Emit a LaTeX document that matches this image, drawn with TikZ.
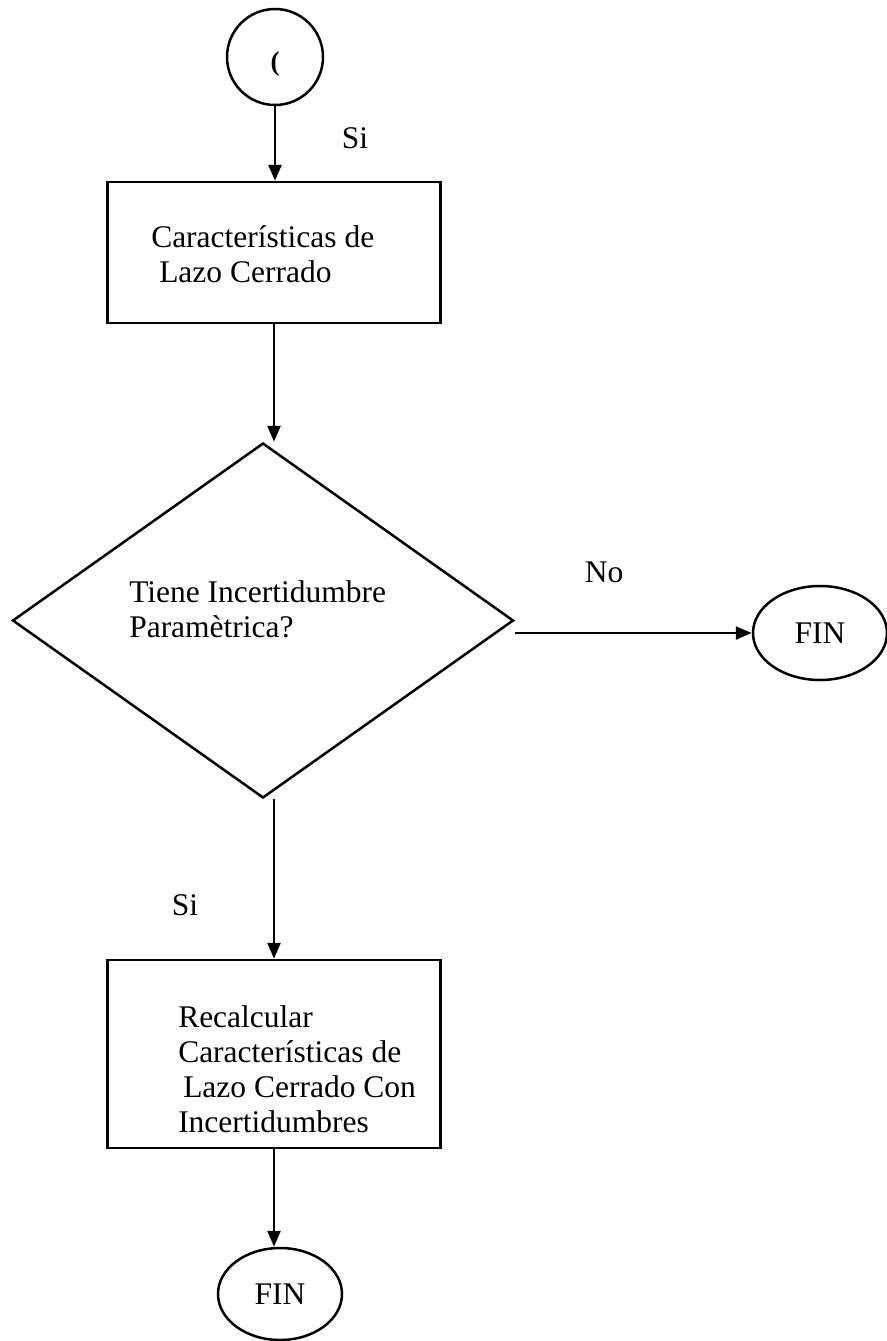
\documentclass[tikz,border=0pt]{standalone}
\usepackage{fontspec}
\setmainfont{Liberation Serif}
\usetikzlibrary{arrows.meta,positioning,shapes.geometric}

\begin{document}
\begin{tikzpicture}[
  x=1pt, y=-1pt,
  font=\fontsize{31.5}{35}\selectfont,
  line width=2.5pt,
  stepbox/.style={draw, rectangle, inner sep=0pt, minimum width=333pt},
  decision/.style={draw, diamond, inner sep=0pt, minimum width=501pt, minimum height=355pt},
  term/.style={draw, ellipse, inner sep=0pt},
  txt/.style={anchor=west, align=left, inner sep=0pt},
  arr/.style={-{Triangle[length=16pt,width=13pt]}},
]
\useasboundingbox (0,0) rectangle (886,1341);
\node[draw, circle, inner sep=0pt, minimum size=96pt, text height=32pt, text depth=5pt, font=\fontsize{27}{30}\selectfont\bfseries] (conn) at (275,57) {(};
\node[stepbox, minimum height=141pt] (chars) at (274,252.5) {};
\node[txt] (charstxt) at (150,254) {Características de\\\hspace*{8pt}Lazo Cerrado};
\node[decision] (check) at (263,620.5) {};
\node[txt] (checktxt) at (128,609) {Tiene Incertidumbre\\Paramètrica?};
\node[term, minimum width=134pt, minimum height=94pt] (finA) at (820,633) {FIN};
\node[stepbox, minimum height=188pt] (recalc) at (274,1054) {};
\node[txt] (recalctxt) at (177,1069) {Recalcular\\Características de\\\hspace*{5pt}Lazo Cerrado Con\\Incertidumbres};
\node[term, minimum width=124pt, minimum height=92pt] (finB) at (280,1294) {FIN};
% branch labels
\node (siA) at (355,138) {Si};
\node (no) at (604,572) {No};
\node (siB) at (185,905) {Si};
\draw[arr] (conn.south) -- (conn.south |- chars.north);
\draw[arr] (chars.south) -- (chars.south |- check.north);
\draw[arr] (check.east |- finA.west) -- (finA.west);
\draw[arr] (check.south -| recalc.north) -- (recalc.north);
\draw[arr] (recalc.south) -- (recalc.south |- finB.north);
\end{tikzpicture}
\end{document}
